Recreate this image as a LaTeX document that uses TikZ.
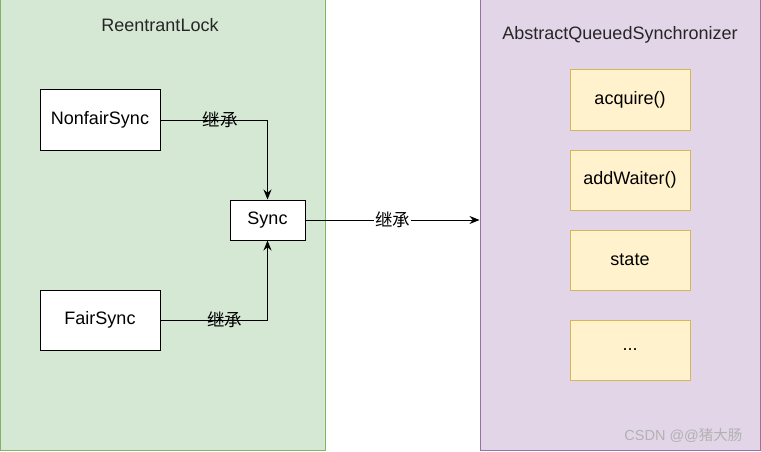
\documentclass[tikz,border=0pt]{standalone}
\usepackage{fontspec}
\setmainfont{Liberation Sans}
\newfontfamily\cjk{Noto Sans CJK SC}
\usetikzlibrary{positioning,arrows.meta}
\definecolor{lockfill}{HTML}{D5E8D4}
\definecolor{lockline}{HTML}{82B366}
\definecolor{aqsfill}{HTML}{E1D5E7}
\definecolor{aqsline}{HTML}{9673A6}
\definecolor{itemfill}{HTML}{FFF2CC}
\definecolor{itemline}{HTML}{D6B656}
\tikzset{panel/.style={draw,line width=1pt,minimum width=325pt,minimum height=450pt,inner sep=0pt},classbox/.style={draw=black,fill=white,line width=1pt,minimum width=120pt,minimum height=60pt,font=\fontsize{18}{21}\selectfont},member/.style={draw=itemline,fill=itemfill,line width=1pt,minimum width=120pt,minimum height=60pt,font=\fontsize{18}{21}\selectfont},title/.style={font=\fontsize{18}{21}\selectfont,text=black!85},extends/.style={font=\cjk\fontsize{17.5}{20}\selectfont,inner sep=1pt},link/.style={draw=black,line width=1pt,-{Stealth[length=10pt,width=8pt]}}}

\begin{document}
\begin{tikzpicture}[x=1pt,y=-1pt,node distance=19pt]
\useasboundingbox (0,0) rectangle (761,452);
\node[panel,draw=lockline,fill=lockfill] (lock) at (162.5,225) {};
\node[panel,draw=aqsline,fill=aqsfill,minimum width=280pt] (aqs) at (620,225) {};
\node[title] (locktitle) at (160,25) {ReentrantLock};
\node[title] (aqstitle) at (620,35) {AbstractQueuedSynchronizer};
\node[classbox] (nonfair) at (100,120) {NonfairSync};
\node[classbox] (fair) at (100,320) {FairSync};
\node[classbox,minimum width=75pt,minimum height=40pt] (sync) at (267.5,220) {Sync};
\node[member] (acquire) at (630,100) {acquire()};
\node[member,below=of acquire] (addwaiter) {addWaiter()};
\node[member,below=of addwaiter] (state) {state};
\node[member,below=29pt of state] (more) {...};
\node[font=\fontsize{14.5}{17}\selectfont,text=black!30,anchor=east] (mark) at (746,435) {CSDN @@{\cjk 猪大肠}};
\draw[link] (nonfair.east) -| (sync.north) node[extends,pos=0.28] {继承};
\draw[link] (fair.east) -| (sync.south) node[extends,pos=0.3] {继承};
\draw[link] (sync.east) -- (sync.east -| aqs.west) node[extends,midway,fill=white] {继承};
\end{tikzpicture}
\end{document}
